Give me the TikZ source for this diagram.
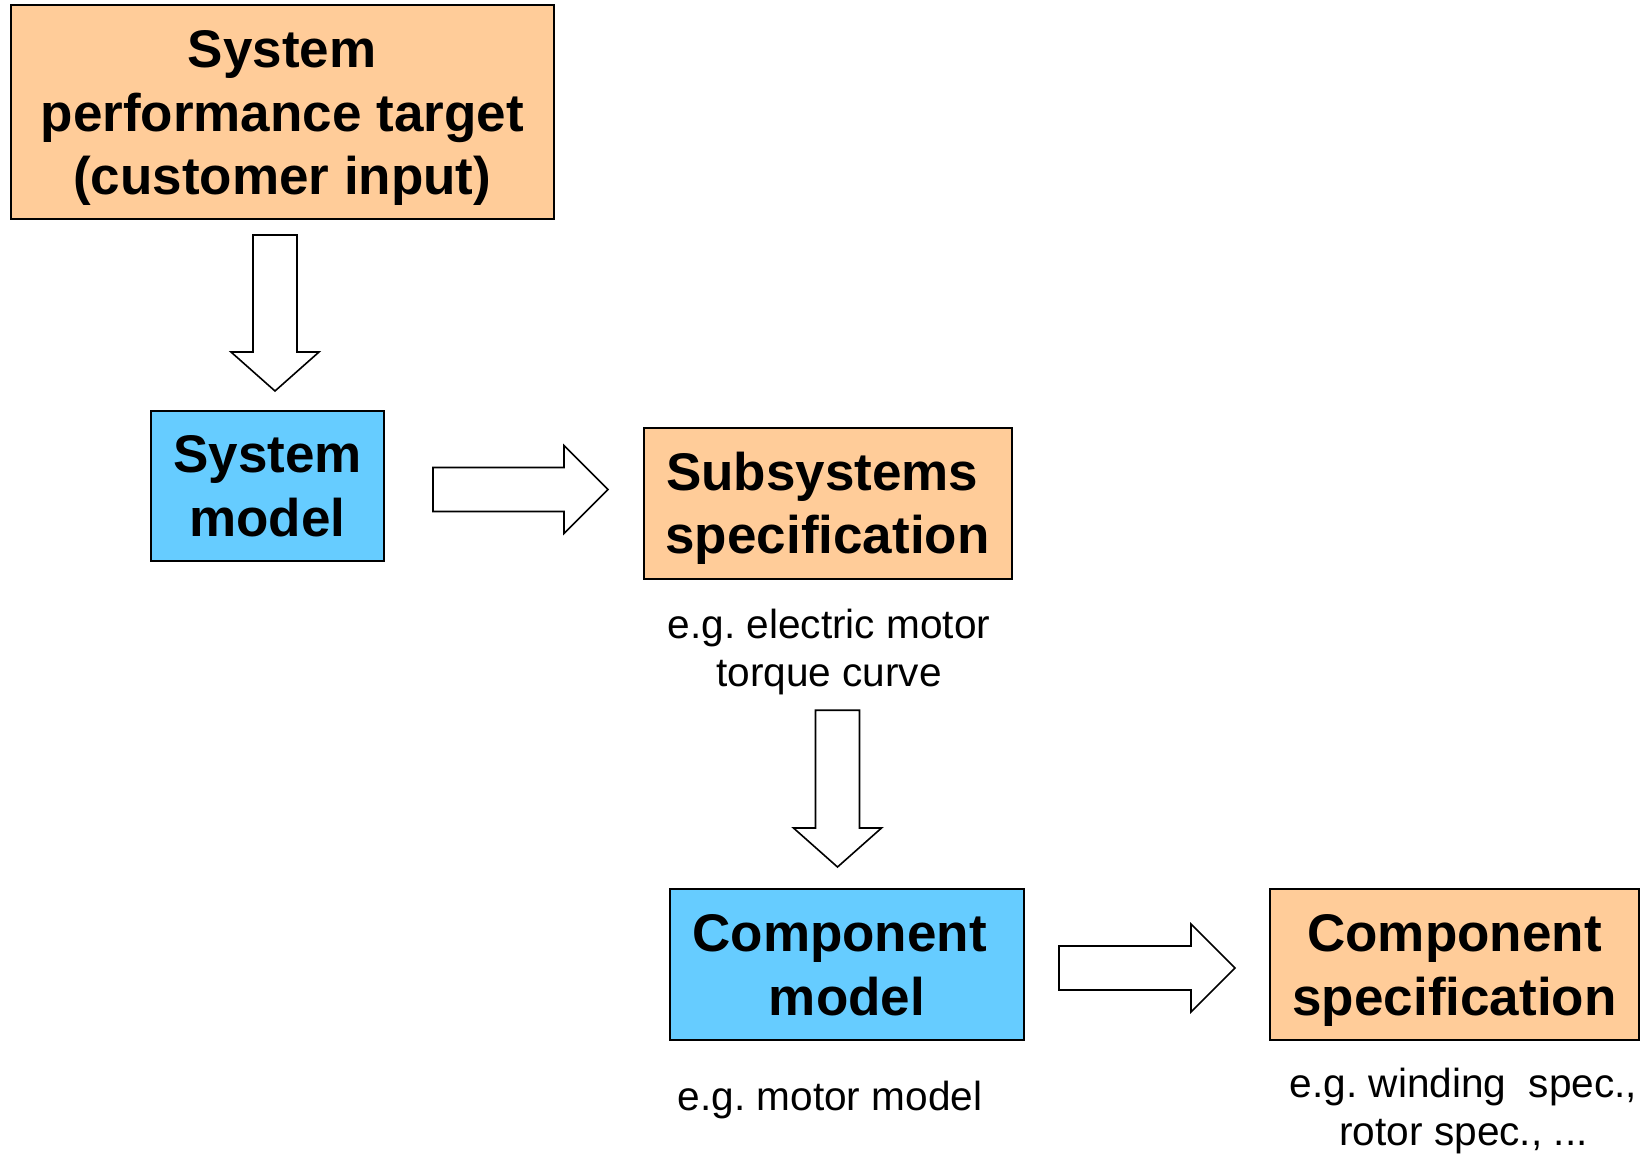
\documentclass[tikz,border=0pt]{standalone}
\usepackage{fontspec}
\setmainfont{Liberation Sans}
\usetikzlibrary{calc}
\frenchspacing
\definecolor{peach}{HTML}{FFCC99}
\definecolor{sky}{HTML}{66CCFF}
% line struts so that every line has the same height and depth
\newcommand\hstr{\rule[-12pt]{0pt}{62pt}}
\newcommand\sstr{\rule[-9pt]{0pt}{47pt}}
\tikzset{
  box/.style={draw=black, line width=2pt, inner sep=0pt, align=center,
              font=\fontsize{53}{63.5}\selectfont\bfseries},
  specbox/.style={box, fill=peach},
  modelbox/.style={box, fill=sky},
  note/.style={inner sep=0pt, align=center, font=\fontsize{40.6}{48}\selectfont},
  blockarrow/.style={draw=black, line width=1.6pt, fill=white, line join=miter},
}
% hollow block arrow pointing down: #1 tail, #2 tip
\newcommand\downblock[2]{%
  \draw[blockarrow] let \p1=(#1), \p2=(#2) in
    (\x1-22pt,\y1) -- (\x1+22pt,\y1) -- (\x1+22pt,\y2+39pt) -- (\x1+44pt,\y2+39pt)
    -- (\x1,\y2) -- (\x1-44pt,\y2+39pt) -- (\x1-22pt,\y2+39pt) -- cycle;}
% hollow block arrow pointing right: #1 tail, #2 tip
\newcommand\rightblock[2]{%
  \draw[blockarrow] let \p1=(#1), \p2=(#2) in
    (\x1,\y1+22pt) -- (\x2-44pt,\y1+22pt) -- (\x2-44pt,\y1+44pt) -- (\x2,\y1)
    -- (\x2-44pt,\y1-44pt) -- (\x2-44pt,\y1-22pt) -- (\x1,\y1-22pt) -- cycle;}
\begin{document}
\begin{tikzpicture}[x=1pt,y=-1pt]
\useasboundingbox (0,0) rectangle (1645,1153);

% boxes
\node[specbox, minimum width=543.5, minimum height=214] (target) at (282.25,112)
  {\hstr System\\\hstr performance target\\\hstr (customer input)};
\node[modelbox, minimum width=233, minimum height=150] (sysm) at (267.5,485.5)
  {\hstr System\\\hstr model};
\node[specbox, minimum width=368, minimum height=151] (subs) at (827.5,503)
  {\hstr Subsystems\hspace*{10.5pt}\\\hstr specification};
\node[modelbox, minimum width=354, minimum height=151] (compm) at (847,964.5)
  {\hstr Component\hspace*{14.7pt}\\\hstr model};
\node[specbox, minimum width=369, minimum height=151] (comps) at (1454.5,964.5)
  {\hstr Component\\\hstr specification};

% notes
\node[note] (subsnote) at (829,648) {\sstr e.g. electric motor\\\sstr torque curve};
\node[note] (compmnote) at (830,1095.5) {\sstr e.g. motor model};
\node[note] (compsnote) at (1463.5,1106.5) {\sstr e.g. winding\ \ spec.,\\\sstr rotor spec., ...};

% connectors
\coordinate (a1s) at ($(target.south)+(-7.25,15)$);
\coordinate (a1e) at ($(a1s |- sysm.north)+(0,-18.5)$);
\downblock{a1s}{a1e}

\coordinate (a2s) at ($(sysm.east)+(48,4)$);
\coordinate (a2e) at ($(a2s -| subs.west)+(-34.5,0)$);
\rightblock{a2s}{a2e}

\coordinate (a3s) at ($(subsnote.south)+(8.5,14.5)$);
\coordinate (a3e) at ($(a3s |- compm.north)+(0,-21)$);
\downblock{a3s}{a3e}

\coordinate (a4s) at ($(compm.east)+(34,3.5)$);
\coordinate (a4e) at ($(a4s -| comps.west)+(-34,0)$);
\rightblock{a4s}{a4e}
\end{tikzpicture}
\end{document}
